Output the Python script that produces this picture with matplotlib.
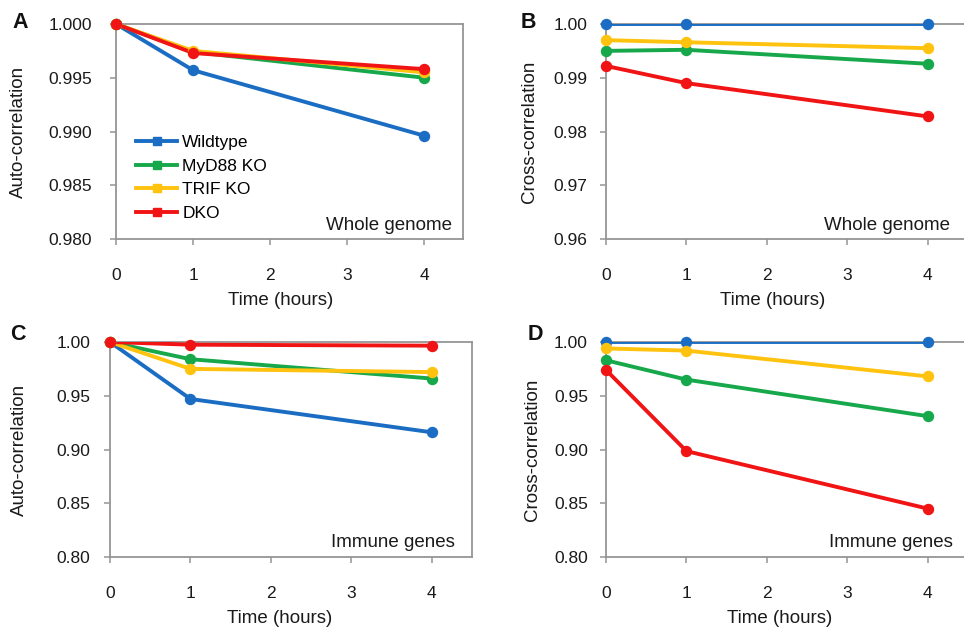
import matplotlib
matplotlib.use('Agg')
import matplotlib.pyplot as plt
from matplotlib.lines import Line2D

plt.rcParams['font.family'] = ['Liberation Sans', 'DejaVu Sans']

hours = [0, 1, 4]
strains = ['Wildtype', 'MyD88 KO', 'TRIF KO', 'DKO']
colors = ['#1a6dc2', '#16a84a', '#ffc20e', '#f01414']

# auto-correlation, whole genome
auto_whole = {
    'Wildtype': [1.000, 0.9957, 0.9896],
    'MyD88 KO': [1.000, 0.9974, 0.9950],
    'TRIF KO': [1.000, 0.9975, 0.9955],
    'DKO': [1.000, 0.9973, 0.9958],
}
# cross-correlation, whole genome
cross_whole = {
    'Wildtype': [1.000, 1.000, 1.000],
    'MyD88 KO': [0.9950, 0.9952, 0.9926],
    'TRIF KO': [0.9970, 0.9966, 0.9955],
    'DKO': [0.9922, 0.9890, 0.9828],
}
# auto-correlation, immune genes
auto_immune = {
    'Wildtype': [1.000, 0.947, 0.916],
    'MyD88 KO': [1.000, 0.984, 0.966],
    'TRIF KO': [1.000, 0.975, 0.972],
    'DKO': [1.000, 0.9975, 0.9966],
}
# cross-correlation, immune genes
cross_immune = {
    'Wildtype': [1.000, 1.000, 1.000],
    'MyD88 KO': [0.983, 0.965, 0.931],
    'TRIF KO': [0.994, 0.992, 0.968],
    'DKO': [0.974, 0.8985, 0.845],
}

W, H = 964, 627
fig = plt.figure(figsize=(W / 100, H / 100), dpi=100)


def px_axes(left, top, right, bottom):
    return fig.add_axes([left / W, 1 - bottom / H, (right - left) / W, (bottom - top) / H])


axA = px_axes(116, 24, 463, 239)
axB = px_axes(606, 24, 968, 239)
axC = px_axes(110, 342, 472, 557)
axD = px_axes(606, 342, 968, 557)

# (axes, data, ylim, yticks, format, ylabel, region, ytick pad, ylabel x, xlabel x, region x, region y)
panels = [
    (axA, auto_whole, (0.980, 1.000), [0.980, 0.985, 0.990, 0.995, 1.000], '{:.3f}',
     'Auto-correlation', 'Whole genome', 13.5, -0.282, 0.473, 0.968, 0.062),
    (axB, cross_whole, (0.96, 1.00), [0.96, 0.97, 0.98, 0.99, 1.00], '{:.2f}',
     'Cross-correlation', 'Whole genome', 9.5, -0.21, 0.461, 0.950, 0.062),
    (axC, auto_immune, (0.80, 1.00), [0.80, 0.85, 0.90, 0.95, 1.00], '{:.2f}',
     'Auto-correlation', 'Immune genes', 10, -0.249, 0.468, 0.953, 0.067),
    (axD, cross_immune, (0.80, 1.00), [0.80, 0.85, 0.90, 0.95, 1.00], '{:.2f}',
     'Cross-correlation', 'Immune genes', 9, -0.204, 0.48, 0.959, 0.067),
]

spine_col = '#959595'
txt_col = '#1a1a1a'
for ax, data, ylim, yticks, fmt, ylab, region, ypad, ylx, xlx, rx, ry in panels:
    for name, c in zip(strains, colors):
        ax.plot(hours, data[name], '-', color=c, lw=2.8, solid_capstyle='round', zorder=3)
        ax.plot(hours, data[name], 'o', color=c, ms=7.2, clip_on=False, zorder=5)
    ax.set_xlim(0, 4.5)
    ax.set_ylim(*ylim)
    ax.set_xticks([0, 1, 2, 3, 4])
    ax.set_yticks(yticks)
    ax.set_yticklabels([fmt.format(v) for v in yticks])
    for s in ax.spines.values():
        s.set_color(spine_col)
        s.set_linewidth(1.3)
    ax.tick_params(axis='x', direction='out', length=4, width=1.1, color=spine_col,
                   pad=17, labelsize=12.5, labelcolor=txt_col)
    ax.tick_params(axis='y', direction='out', length=4, width=1.1, color=spine_col,
                   pad=ypad, labelsize=12.5, labelcolor=txt_col)
    ax.set_xlabel('Time (hours)', fontsize=13.5, color=txt_col, va='center')
    ax.xaxis.set_label_coords(xlx, -0.285)
    ax.set_ylabel(ylab, fontsize=13.5, color=txt_col, va='center')
    ax.yaxis.set_label_coords(ylx, 0.5)
    ax.text(rx, ry, region, transform=ax.transAxes, ha='right', va='center',
            fontsize=13.5, color=txt_col)

# panel letters
for x, y, letter in [(20, 22, 'A'), (528, 22, 'B'), (18, 335, 'C'), (535, 335, 'D')]:
    fig.text(x / W, 1 - y / H, letter, fontsize=15.5, fontweight='bold', ha='center',
             va='center', color='#111111')

# legend with square markers
handles = [Line2D([0], [0], color=c, lw=2.8, marker='s', ms=5.5) for c in colors]
axA.legend(handles, strains, loc='center left', bbox_to_anchor=(0.058, 0.284), frameon=False,
           fontsize=12.5, handlelength=2.35, handletextpad=0.3, labelspacing=0.5,
           borderaxespad=0, borderpad=0)

fig.savefig('out.png', dpi=100)
